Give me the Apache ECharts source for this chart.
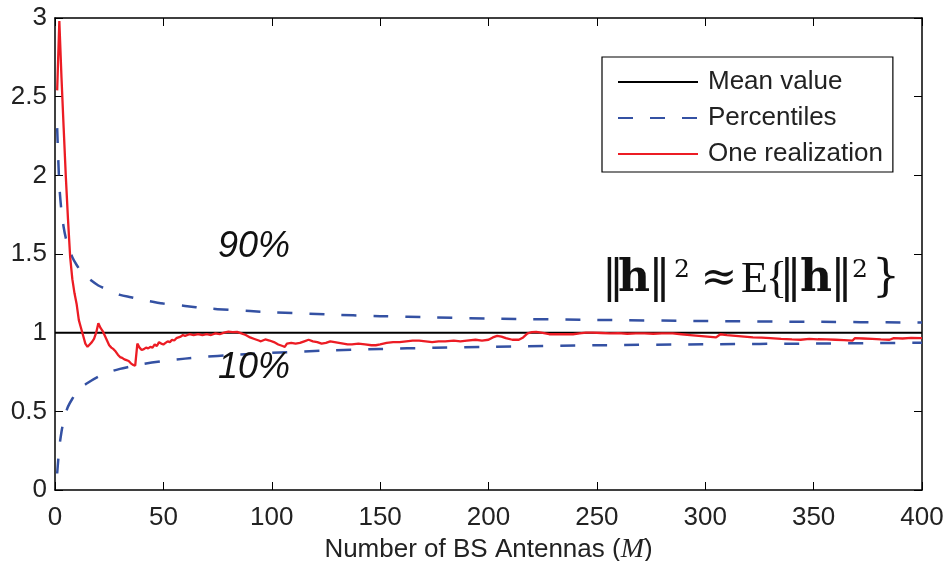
<!DOCTYPE html>
<html>
<head>
<meta charset="utf-8">
<script src="https://cdn.jsdelivr.net/npm/echarts@6/dist/echarts.min.js"></script>
<style>html,body{margin:0;padding:0;background:#fff;}#c{width:947px;height:561px;}</style>
</head>
<body>
<div id="c"></div>
<script>
// ---- data ----
const xTicks = [0, 50, 100, 150, 200, 250, 300, 350, 400];
const yTicks = [0, 0.5, 1, 1.5, 2, 2.5, 3];

const meanM = [0, 400];
const meanVal = [1, 1];

const pctM = [1,2,3,4,5,6,8,10,12,15,20,25,30,35,40,50,60,70,80,90,100,125,150,175,200,250,300,350,400];
const pct90 = [2.30,1.94,1.77,1.67,1.60,1.55,1.48,1.43,1.39,1.35,1.30,1.27,1.24,1.225,1.21,1.185,1.17,1.155,1.145,1.137,1.13,1.116,1.105,1.097,1.09,1.081,1.074,1.069,1.064];
const pct10 = [0.105,0.27,0.37,0.44,0.49,0.53,0.58,0.62,0.65,0.68,0.72,0.75,0.77,0.785,0.80,0.82,0.835,0.847,0.857,0.865,0.872,0.886,0.896,0.904,0.91,0.92,0.926,0.931,0.936];

const realM = [1,2,3,4,5,6,7,8,9,10,11,12,13,14,15,16,17,18,19,20,21,22,23,24,25,26,27,28,29,30,31,32,33,34,35,36,37,38,39,40,41,42,43,44,45,46,47,48,49,50,51,52,53,54,55,56,57,58,59,60,62,64,66,68,70,72,74,76,78,80,82,84,86,88,90,92,94,95,97,99,101,103,105,106,107,109,111,113,115,117,119,121,123,125,127,129,131,133,135,137,140,143,146,148,150,153,156,159,162,165,168,171,174,177,180,184,187,190,194,197,200,202,204,206,208,211,214,216,218,220,222,225,228,232,236,239,242,245,248,252,256,260,264,268,272,276,280,285,289,293,297,301,305,307,310,314,318,322,326,330,335,340,344,348,352,356,360,364,368,369,373,377,381,385,387,391,395,400];
const realVal = [2.54,2.98,2.62,2.30,1.99,1.72,1.48,1.34,1.25,1.18,1.08,1.03,0.98,0.93,0.91,0.925,0.94,0.96,1.00,1.06,1.03,1.01,0.98,0.95,0.92,0.905,0.895,0.88,0.86,0.845,0.84,0.83,0.825,0.82,0.805,0.795,0.79,0.93,0.905,0.89,0.895,0.905,0.90,0.91,0.905,0.925,0.915,0.94,0.93,0.925,0.935,0.945,0.94,0.955,0.95,0.965,0.97,0.975,0.985,0.98,0.99,0.985,0.99,0.985,0.99,0.985,0.995,0.99,1.0,1.006,1.003,1.005,0.995,0.985,0.97,0.96,0.95,0.945,0.957,0.95,0.94,0.925,0.915,0.91,0.93,0.935,0.93,0.935,0.945,0.955,0.945,0.94,0.93,0.935,0.945,0.94,0.935,0.93,0.925,0.925,0.93,0.925,0.92,0.92,0.925,0.935,0.94,0.94,0.945,0.95,0.95,0.945,0.94,0.945,0.945,0.95,0.945,0.95,0.955,0.95,0.955,0.97,0.98,0.975,0.965,0.955,0.955,0.97,0.995,1.003,1.005,0.998,0.99,0.99,0.99,0.99,0.995,1.0,1.0,0.998,0.995,0.997,0.993,0.996,0.995,0.993,0.995,0.995,0.99,0.985,0.98,0.975,0.97,0.99,0.985,0.98,0.975,0.97,0.968,0.965,0.96,0.957,0.955,0.96,0.958,0.957,0.955,0.953,0.95,0.965,0.963,0.96,0.957,0.955,0.965,0.963,0.967,0.965];

const zip = (a, b) => a.map((v, i) => [v, b[i]]);

const BLUE = '#3451a3', RED = '#ec1c24';
const FONT = '"Liberation Sans", Arial, Helvetica, sans-serif';
const SERIF = '"DejaVu Serif", "Liberation Serif", serif';

const chart = echarts.init(document.getElementById('c'));
const axisCommon = {
  type: 'value',
  splitLine: { show: false },
  axisLine: { show: true, onZero: false, lineStyle: { color: '#000', width: 1.5 } },
  axisTick: { show: true, inside: true, length: 8, lineStyle: { color: '#000', width: 1 } }
};
chart.setOption({
  animation: false,
  backgroundColor: '#fff',
  grid: { left: 55, right: 25, top: 18, bottom: 71, containLabel: false, outerBoundsMode: 'none' },
  xAxis: [
    Object.assign({}, axisCommon, {
      min: xTicks[0], max: xTicks[xTicks.length - 1], interval: 50, position: 'bottom',
      axisLabel: { color: '#222', fontSize: 26, fontFamily: FONT, margin: 15 },
      name: 'Number of BS Antennas ({i|M})', nameLocation: 'middle', nameGap: 38,
      nameTextStyle: { color: '#222', fontSize: 26, fontFamily: FONT,
        rich: { i: { fontStyle: 'italic', fontFamily: '"Liberation Serif", "DejaVu Serif", serif', fontSize: 28, color: '#222' } } }
    }),
    Object.assign({}, axisCommon, {
      min: xTicks[0], max: xTicks[xTicks.length - 1], interval: 50, position: 'top',
      axisLabel: { show: false }
    })
  ],
  yAxis: [
    Object.assign({}, axisCommon, {
      min: yTicks[0], max: yTicks[yTicks.length - 1], interval: 0.5, position: 'left',
      axisLabel: { color: '#222', fontSize: 26, fontFamily: FONT, margin: 8 }
    }),
    Object.assign({}, axisCommon, {
      min: yTicks[0], max: yTicks[yTicks.length - 1], interval: 0.5, position: 'right',
      axisLabel: { show: false }
    })
  ],
  legend: {
    orient: 'vertical',
    left: 602, top: 57,
    data: ['Mean value', 'Percentiles', 'One realization'],
    itemWidth: 80, itemHeight: 14, itemGap: 10,
    padding: [12, 10, 5, 15],
    borderColor: '#000', borderWidth: 1.2, backgroundColor: '#fff',
    itemStyle: { opacity: 0 },
    textStyle: { color: '#222', fontSize: 26, fontFamily: FONT, padding: [0, 0, 0, 5] }
  },
  series: [
    { name: 'Mean value', type: 'line', data: zip(meanM, meanVal), symbol: 'none',
      lineStyle: { color: '#000', width: 2 }, itemStyle: { color: '#000' }, z: 2 },
    { name: 'Percentiles', type: 'line', data: zip(pctM, pct90), symbol: 'none', smooth: 0.3,
      lineStyle: { color: BLUE, width: 2.5, type: [15, 17] }, itemStyle: { color: BLUE }, z: 3 },
    { name: 'Percentiles', type: 'line', data: zip(pctM, pct10), symbol: 'none', smooth: 0.3,
      lineStyle: { color: BLUE, width: 2.5, type: [15, 17] }, itemStyle: { color: BLUE }, z: 3 },
    { name: 'One realization', type: 'line', data: zip(realM, realVal), symbol: 'none',
      lineStyle: { color: RED, width: 2.3 }, itemStyle: { color: RED }, z: 4 }
  ],
  graphic: [
    { type: 'text', left: 218, top: 229, z: 10,
      style: { text: '90%', fontSize: 36, fontStyle: 'italic', fontFamily: FONT, fill: '#111' } },
    { type: 'text', left: 218, top: 350, z: 10,
      style: { text: '10%', fontSize: 36, fontStyle: 'italic', fontFamily: FONT, fill: '#111' } },
    { type: 'text', left: 602, top: 258, z: 10,
      style: {
        text: '{bar|‖}{b|h}{bar|‖}{s|2}{ap|≈}{e|E}{br|{}{bar|‖}{b|h}{bar|‖}{s2|2}}',
        fontSize: 44, fontFamily: SERIF, fill: '#111',
        rich: {
          bar: { fontSize: 44, fontFamily: SERIF, fill: '#111', width: 13 },
          b: { fontSize: 44, fontWeight: 'bold', fontFamily: SERIF, fill: '#111', width: 38, align: 'center' },
          s: { fontSize: 25, fontFamily: SERIF, fill: '#111', verticalAlign: 'top', width: 32, align: 'left', padding: [0, 0, 18, 0] },
          s2: { fontSize: 25, fontFamily: SERIF, fill: '#111', verticalAlign: 'top', width: 24, align: 'left', padding: [0, 0, 18, 0] },
          ap: { fontSize: 44, fontFamily: SERIF, fill: '#111', width: 42, align: 'center' },
          e: { fontSize: 44, fontFamily: '"Liberation Serif", serif', fill: '#111', width: 29, align: 'left' },
          br: { fontSize: 44, fontFamily: '"Liberation Serif", serif', fill: '#111', width: 15, align: 'left' }
        }
      } }
  ]
});
</script>
</body>
</html>
